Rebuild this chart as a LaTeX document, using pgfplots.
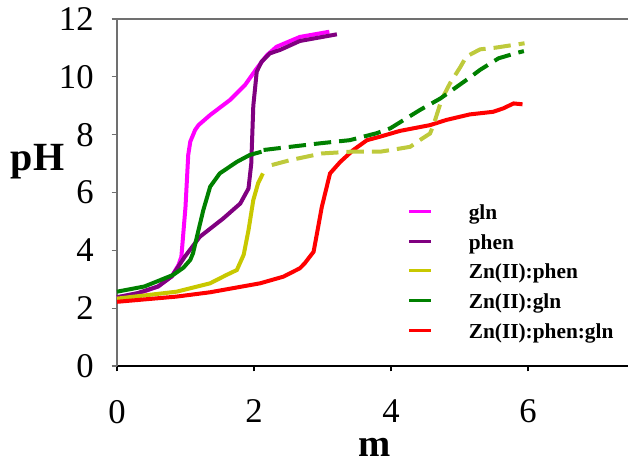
\documentclass[border=0pt]{standalone}
\usepackage{fontspec}
\setmainfont{Liberation Serif}
\usepackage{pgfplots}
\pgfplotsset{compat=1.18}
\definecolor{cgln}{RGB}{255,0,255}
\definecolor{cphen}{RGB}{128,0,128}
\definecolor{czp}{RGB}{200,200,0}
\definecolor{czpd}{RGB}{190,202,60}
\definecolor{czg}{RGB}{0,128,0}
\definecolor{czpg}{RGB}{255,0,0}
\definecolor{axgray}{RGB}{112,112,112}
\begin{document}
\begin{tikzpicture}
\begin{axis}[
  scale only axis, width=383.25pt, height=260.25pt,
  xmin=0, xmax=7.46, ymin=0, ymax=12,
  separate axis lines, axis x line=bottom, axis y line=left,
  x axis line style={-, black, line width=1pt},
  y axis line style={-, axgray, line width=1pt},
  xtick={0,2,4,6}, ytick={0,2,...,12},
  tick align=outside, major tick length=4pt,
  xtick style={black, line width=0.8pt}, ytick style={axgray, line width=0.8pt},
  tick label style={font=\fontsize{26}{30}\selectfont},
  /pgf/number format/assume math mode=true,
  xticklabel shift=18pt, yticklabel shift=10pt,
  clip=false,
  legend style={draw=none, fill=none, inner sep=0pt, outer sep=0pt,
    at={(rel axis cs:0.569,0.484)}, anchor=north west,
    font=\fontsize{16}{19}\selectfont\bfseries,
    nodes={inner sep=0pt, text height=16pt, text depth=4pt},
    row sep=2.3pt, column sep=27pt},
  legend cell align=left,
  legend image code/.code={\draw[#1, solid, line width=2.3pt] (0pt,0pt) -- (16.5pt,0pt);},
]
\draw[axgray, line width=1pt] (rel axis cs:0,1) -- (rel axis cs:1,1);
\addplot[cgln, line width=3pt] coordinates {(0,2.35) (0.3,2.5) (0.6,2.75) (0.8,3.1) (0.9,3.5) (0.94,3.78) (1.0,5.5) (1.04,7.3) (1.07,7.76) (1.14,8.16) (1.19,8.33) (1.36,8.68) (1.65,9.2) (1.87,9.72) (2.04,10.29) (2.19,10.75) (2.33,11.04) (2.67,11.38) (3.1,11.56)};
\addlegendentry{gln}
\addplot[cphen, line width=3pt] coordinates {(0,2.38) (0.3,2.52) (0.6,2.75) (0.8,3.1) (0.99,3.78) (1.21,4.47) (1.55,5.1) (1.80,5.62) (1.92,6.14) (1.96,7.0) (1.99,9.0) (2.04,10.18) (2.11,10.52) (2.23,10.81) (2.38,10.93) (2.67,11.24) (3.21,11.47)};
\addlegendentry{phen}
\addplot[czp, line width=3pt] coordinates {(0,2.33) (0.87,2.57) (1.36,2.86) (1.60,3.15) (1.75,3.32) (1.85,3.85) (1.92,4.70) (1.99,5.74) (2.06,6.32) (2.13,6.66)};
\addlegendentry{Zn(II):phen}
\addplot[czg, line width=3pt] coordinates {(0,2.57) (0.4,2.75) (0.82,3.15) (0.97,3.4) (1.07,3.67) (1.11,3.90) (1.19,4.70) (1.26,5.39) (1.36,6.2) (1.50,6.66) (1.75,7.06) (1.94,7.3) (2.11,7.41)};
\addlegendentry{Zn(II):gln}
\addplot[czpg, line width=3pt] coordinates {(0,2.22) (0.87,2.40) (1.36,2.55) (2.09,2.86) (2.43,3.09) (2.67,3.38) (2.74,3.55) (2.87,3.95) (2.92,4.59) (2.99,5.5) (3.11,6.66) (3.26,7.06) (3.45,7.47) (3.65,7.81) (3.84,7.93) (4.13,8.13) (4.57,8.33) (4.81,8.51) (5.15,8.70) (5.49,8.79) (5.64,8.91) (5.79,9.08) (5.92,9.05)};
\addlegendentry{Zn(II):phen:gln}
\addplot[czpd, line width=3pt, dash pattern=on 13pt off 6pt, forget plot] coordinates {(2.26,6.95) (2.53,7.12) (2.99,7.35) (3.40,7.41) (3.84,7.41) (4.13,7.52) (4.28,7.58) (4.42,7.81) (4.57,8.04) (4.62,8.33) (4.74,9.22) (4.86,9.77) (5.01,10.33) (5.10,10.70) (5.30,10.95) (5.53,11.01) (5.78,11.10) (5.95,11.16)};
\addplot[czg, line width=3pt, dash pattern=on 13pt off 6pt, forget plot] coordinates {(2.14,7.47) (2.53,7.58) (2.96,7.70) (3.40,7.81) (3.79,8.05) (3.99,8.22) (4.42,8.85) (4.72,9.25) (5.13,9.94) (5.30,10.24) (5.57,10.64) (5.81,10.81) (5.94,10.89)};
\node[font=\fontsize{30}{34}\selectfont\bfseries] at (rel axis cs:0,0.588) [xshift=-59.6pt] {pH};
\node[font=\fontsize{29}{33}\selectfont\bfseries, anchor=base] at (rel axis cs:0.505,0) [yshift=-68pt] {m};
\end{axis}
\pgfresetboundingbox
\path (current axis.south west) ++(-87.75pt,-78.75pt) rectangle ++(471pt,353.25pt);
\end{tikzpicture}
\end{document}
